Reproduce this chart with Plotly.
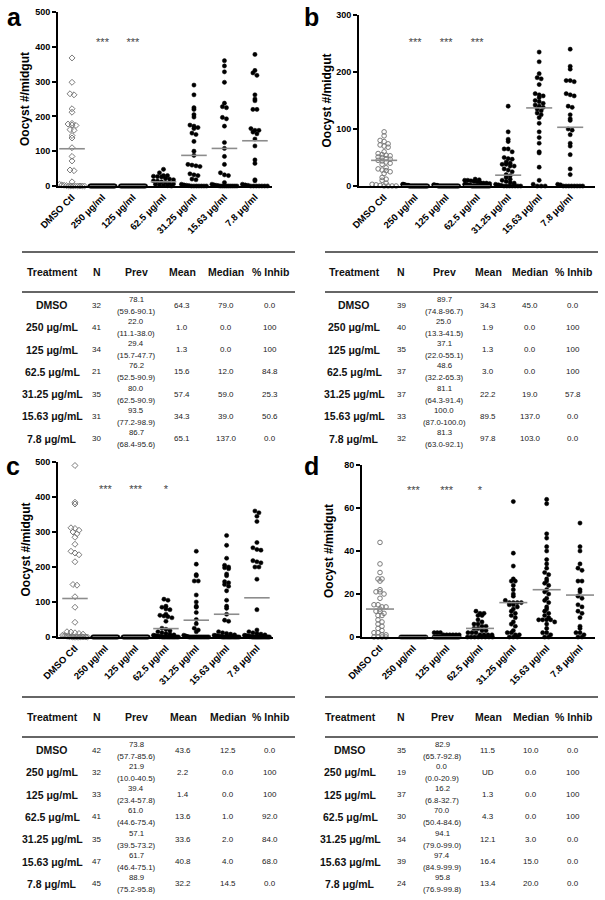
import plotly.graph_objects as go

W, H = 605, 900
FONT = "Liberation Sans, Arial, sans-serif"

categories = ["DMSO Ctl", "250 μg/ml", "125 μg/ml", "62.5 μg/ml",
              "31.25 μg/ml", "15.63 μg/ml", "7.8 μg/ml"]
stars = ["", "***", "***", "", "", "", ""]
stars_cd = ["", "***", "***", "*", "", "", ""]
stars_b = ["", "***", "***", "***", "", "", ""]

# ---------------- panel a (oocysts per midgut) ----------------
a_dmso = [368, 298, 265, 262, 222, 212, 180, 178, 175, 174, 162, 160, 145, 138, 110, 85,
          72, 46, 44, 12, 5, 3, 2, 1, 0, 0, 0, 0, 0, 0, 0, 0]
a_250 = [0] * 41
a_125 = [0] * 34
a_625 = [48, 38, 30, 30, 28, 27, 26, 22, 20, 18, 15, 14, 12, 10, 8, 6, 5, 3, 2, 1, 0]
a_3125 = [290, 262, 225, 220, 205, 198, 175, 172, 168, 165, 152, 148, 128, 100, 88, 62,
          60, 58, 56, 35, 32, 30, 20, 18, 5, 3, 2, 1, 0, 0, 0, 0, 0, 0, 0]
a_1563 = [360, 345, 328, 298, 238, 228, 225, 197, 193, 172, 125, 108, 85, 62, 38, 32, 30,
          10, 5, 3, 2, 1, 0, 0, 0, 0, 0, 0, 0, 0, 0]
a_78 = [378, 332, 325, 318, 262, 250, 245, 220, 220, 165, 160, 155, 160, 150, 115, 135,
        75, 65, 18, 15, 5, 3, 2, 0, 0, 0, 0, 0, 0, 0]
a_lines = [107, 0, 0, 12, 88, 108, 130]
a_star_y = 410

# ---------------- panel b ----------------
b_dmso = [95, 88, 80, 78, 74, 72, 70, 68, 60, 57, 55, 54, 53, 51, 50, 48, 47, 45, 44, 42,
          40, 38, 32, 30, 28, 27, 25, 22, 15, 12, 10, 5, 3, 2, 1, 0, 0, 0, 0]
b_250 = [3, 3, 2, 2, 2, 1, 1, 1, 1, 1] + [0] * 30
b_125 = [2, 2, 1, 1, 1, 1] + [0] * 29
b_625 = [12, 11, 10, 10, 9, 8, 7, 6, 5, 5, 4, 3, 3, 2, 2, 1, 1, 1] + [0] * 19
b_3125 = [140, 95, 82, 78, 65, 65, 60, 50, 48, 47, 42, 40, 38, 38, 35, 35, 30, 28, 25, 20,
          18, 15, 12, 10, 8, 6, 5, 3, 2, 1, 0, 0, 0, 0, 0, 0, 0]
b_1563 = [235, 218, 197, 190, 188, 178, 162, 160, 158, 155, 150, 148, 145, 142, 140, 138,
          135, 132, 128, 125, 120, 110, 95, 85, 75, 60, 58, 33, 10, 3, 0, 0, 0]
b_78 = [240, 210, 205, 185, 185, 183, 162, 160, 158, 140, 138, 125, 118, 115, 100, 98, 90,
        75, 70, 55, 30, 20, 3, 2, 0, 0, 0, 0, 0, 0, 0, 0]
b_lines = [45, 0, 0, 0, 19, 137, 103]
b_star_y = 250

# ---------------- panel c ----------------
c_dmso = [490, 385, 380, 312, 310, 305, 300, 295, 285, 265, 245, 240, 235, 215, 150, 148,
          115, 85, 42, 15, 14, 12, 10, 8, 5, 4, 3, 2, 2, 1, 1] + [0] * 11
c_250 = [0] * 32
c_125 = [0] * 33
c_625 = [108, 105, 88, 85, 80, 78, 65, 62, 60, 58, 55, 45, 25, 22, 18, 15, 12, 10, 8, 6,
         5, 4, 3, 2, 2, 1, 1] + [0] * 14
c_3125 = [245, 208, 178, 175, 160, 160, 120, 100, 88, 85, 70, 50, 38, 25, 20, 15, 5, 3, 2,
          1] + [0] * 15
c_1563 = [290, 262, 225, 205, 200, 198, 195, 180, 175, 158, 155, 150, 145, 132, 105, 88,
          82, 65, 48, 45, 15, 12, 10, 8, 6, 5, 4, 3, 2, 2, 1, 1] + [0] * 15
c_78 = [360, 355, 345, 330, 270, 255, 250, 248, 218, 215, 212, 200, 200, 165, 78, 20, 15,
        12, 10, 8, 6, 5, 4, 3, 2, 2, 1, 1] + [0] * 17
c_lines = [110, 0, 0, 24, 48, 65, 112]
c_star_y = 418

# ---------------- panel d ----------------
d_dmso = [44, 34, 30, 27, 27, 26, 22, 21, 21, 20, 18, 15, 15, 14, 14, 13, 12, 12, 11, 10,
          10, 8, 7, 6, 5, 4, 3, 2, 2, 1, 1, 0, 0, 0, 0]
d_250 = [0] * 19
d_125 = [2, 2, 2, 1, 1, 1, 1, 1, 1] + [0] * 28
d_625 = [12, 11, 11, 10, 10, 8, 7, 6, 6, 5, 5, 4, 4, 3, 3, 2, 2, 2, 1, 1, 1, 1] + [0] * 8
d_3125 = [63, 39, 33, 27, 26, 26, 24, 22, 20, 19, 17, 16, 16, 16, 16, 15, 15, 14, 13, 12,
          11, 10, 9, 7, 6, 5, 3, 2, 2, 1, 1, 0, 0, 0]
d_1563 = [64, 62, 48, 46, 42, 40, 36, 34, 32, 30, 29, 27, 26, 25, 24, 22, 21, 20, 18, 17,
          16, 14, 13, 12, 11, 10, 9, 8, 8, 8, 8, 7, 6, 4, 2, 2, 1, 0, 0]
d_78 = [53, 42, 40, 34, 32, 31, 26, 26, 22, 21, 19, 18, 15, 14, 12, 11, 9, 5, 4, 2, 2, 1,
        0, 0]
d_lines = [13, 0, 0, 4, 16, 22, 19.5]
d_star_y = 68

# ---------------- tables ----------------
table_header = ["Treatment", "N", "Prev", "Mean", "Median", "% Inhib"]
treatments = ["DMSO", "250 μg/mL", "125 μg/mL", "62.5 μg/mL", "31.25 μg/mL",
              "15.63 μg/mL", "7.8 μg/mL"]

a_N = [32, 41, 34, 21, 35, 31, 30]
a_prev = ["78.1", "22.0", "29.4", "76.2", "80.0", "93.5", "86.7"]
a_ci = ["(59.6-90.1)", "(11.1-38.0)", "(15.7-47.7)", "(52.5-90.9)", "(62.5-90.9)",
        "(77.2-98.9)", "(68.4-95.6)"]
a_mean = ["64.3", "1.0", "1.3", "15.6", "57.4", "34.3", "65.1"]
a_median = ["79.0", "0.0", "0.0", "12.0", "59.0", "39.0", "137.0"]
a_inhib = ["0.0", "100", "100", "84.8", "25.3", "50.6", "0.0"]

b_N = [39, 40, 35, 37, 37, 33, 32]
b_prev = ["89.7", "25.0", "37.1", "48.6", "81.1", "100.0", "81.3"]
b_ci = ["(74.8-96.7)", "(13.3-41.5)", "(22.0-55.1)", "(32.2-65.3)", "(64.3-91.4)",
        "(87.0-100.0)", "(63.0-92.1)"]
b_mean = ["34.3", "1.9", "1.3", "3.0", "22.2", "89.5", "97.8"]
b_median = ["45.0", "0.0", "0.0", "0.0", "19.0", "137.0", "103.0"]
b_inhib = ["0.0", "100", "100", "100", "57.8", "0.0", "0.0"]

c_N = [42, 32, 33, 41, 35, 47, 45]
c_prev = ["73.8", "21.9", "39.4", "61.0", "57.1", "61.7", "88.9"]
c_ci = ["(57.7-85.6)", "(10.0-40.5)", "(23.4-57.8)", "(44.6-75.4)", "(39.5-73.2)",
        "(46.4-75.1)", "(75.2-95.8)"]
c_mean = ["43.6", "2.2", "1.4", "13.6", "33.6", "40.8", "32.2"]
c_median = ["12.5", "0.0", "0.0", "1.0", "2.0", "4.0", "14.5"]
c_inhib = ["0.0", "100", "100", "92.0", "84.0", "68.0", "0.0"]

d_N = [35, 19, 37, 30, 34, 39, 24]
d_prev = ["82.9", "0.0", "16.2", "70.0", "94.1", "97.4", "95.8"]
d_ci = ["(65.7-92.8)", "(0.0-20.9)", "(6.8-32.7)", "(50.4-84.6)", "(79.0-99.0)",
        "(84.9-99.9)", "(76.9-99.8)"]
d_mean = ["11.5", "UD", "1.3", "4.3", "12.1", "16.4", "13.4"]
d_median = ["10.0", "0.0", "0.0", "0.0", "3.0", "15.0", "20.0"]
d_inhib = ["0.0", "100", "100", "100", "0.0", "0.0", "0.0"]

# ---------------- layout helpers ----------------
def px(x):
    return x / W


def py(y):
    return 1 - y / H


panels = [
    dict(name="a", ax="", groups=[a_dmso, a_250, a_125, a_625, a_3125, a_1563, a_78],
         lines=a_lines, stars=stars, star_y=a_star_y, ctl="diamond-open",
         x0=58, x1=272, ytop=12, ybot=186, xr=(-0.46, 6.56), yr=(0, 500), dtick=100,
         letter_xy=(5, 17)),
    dict(name="b", ax="2", groups=[b_dmso, b_250, b_125, b_625, b_3125, b_1563, b_78],
         lines=b_lines, stars=stars_b, star_y=b_star_y, ctl="circle-open",
         x0=359, x1=595, ytop=15, ybot=186, xr=(-0.81, 6.8), yr=(0, 300), dtick=100,
         letter_xy=(302, 17)),
    dict(name="c", ax="3", groups=[c_dmso, c_250, c_125, c_625, c_3125, c_1563, c_78],
         lines=c_lines, stars=stars_cd, star_y=c_star_y, ctl="diamond-open",
         x0=58, x1=273, ytop=462, ybot=637, xr=(-0.56, 6.53), yr=(0, 500), dtick=100,
         letter_xy=(4, 466)),
    dict(name="d", ax="4", groups=[d_dmso, d_250, d_125, d_625, d_3125, d_1563, d_78],
         lines=d_lines, stars=stars_cd, star_y=d_star_y, ctl="circle-open",
         x0=362, x1=595, ytop=465, ybot=637, xr=(-0.54, 6.45), yr=(0, 80), dtick=20,
         letter_xy=(302, 466)),
]


def swarm(vals, ppu, ppc, d=4.0, maxhalf=12.5):
    vs = sorted(vals, reverse=True)
    bins = {}
    for v in vs:
        bins.setdefault(int(round(v * ppu / d)), []).append(v)
    xs, ys = [], []
    for _, bv in bins.items():
        k = len(bv)
        step = d if (k - 1) * d <= 2 * maxhalf else 2 * maxhalf / (k - 1)
        for j, v in enumerate(bv):
            xs.append((j - (k - 1) / 2) * step / ppc)
            ys.append(v)
    return xs, ys


fig = go.Figure()
layout = dict(width=W, height=H, margin=dict(l=0, r=0, t=0, b=0, autoexpand=False),
              paper_bgcolor="white", plot_bgcolor="white", showlegend=False,
              font=dict(family=FONT, color="black"))
annotations = []
shapes = []

for p in panels:
    ax = p["ax"]
    ppu = (p["ybot"] - p["ytop"]) / (p["yr"][1] - p["yr"][0])
    ppc = (p["x1"] - p["x0"]) / (p["xr"][1] - p["xr"][0])
    for i, g in enumerate(p["groups"]):
        xo, yv = swarm(g, ppu, ppc)
        ctl = i == 0
        fig.add_trace(go.Scatter(
            x=[i + o for o in xo], y=yv, mode="markers", cliponaxis=False,
            xaxis="x" + ax, yaxis="y" + ax,
            marker=dict(symbol=p["ctl"] if ctl else "circle", size=4.6 if ctl else 4.2,
                        color="#7a7a7a" if ctl else "black",
                        line=dict(width=1 if ctl else 0.5,
                                  color="#7a7a7a" if ctl else "black"))))
        m = p["lines"][i]
        fig.add_trace(go.Scatter(
            x=[i - 0.42, i + 0.42], y=[m, m], mode="lines", cliponaxis=False,
            xaxis="x" + ax, yaxis="y" + ax,
            line=dict(color="#8c8c8c", width=1.6)))
    fig.add_trace(go.Scatter(
        x=list(range(7)), y=[p["star_y"]] * 7, text=p["stars"], mode="text",
        cliponaxis=False, xaxis="x" + ax, yaxis="y" + ax,
        textfont=dict(size=11, color="#444", family=FONT)))

    layout["xaxis" + ax] = dict(
        domain=[px(p["x0"]), px(p["x1"])], range=list(p["xr"]), anchor="y" + ax,
        automargin=False,
        showline=True, linewidth=2, linecolor="black", showgrid=False, zeroline=False,
        tickmode="array", tickvals=list(range(7)), ticktext=categories, tickangle=-45,
        ticks="", tickfont=dict(size=9.5, family=FONT, color="black", weight="bold"))
    layout["yaxis" + ax] = dict(
        domain=[py(p["ybot"]), py(p["ytop"])], range=list(p["yr"]), anchor="x" + ax,
        automargin=False,
        showline=True, linewidth=2, linecolor="black", showgrid=False, zeroline=False,
        tickmode="linear", tick0=0, dtick=p["dtick"], ticks="outside", ticklen=4,
        tickwidth=1.5, tickcolor="black",
        tickfont=dict(size=9, family=FONT, color="black", weight="bold"))
    annotations.append(dict(
        x=px(p["x0"] - 33), y=py((p["ytop"] + p["ybot"]) / 2), xref="paper", yref="paper",
        text="Oocyst #/midgut", textangle=-90, showarrow=False, xanchor="center",
        yanchor="middle", font=dict(size=12, family=FONT, color="black", weight="bold")))
    annotations.append(dict(
        x=px(p["letter_xy"][0]), y=py(p["letter_xy"][1]), xref="paper", yref="paper",
        text=p["name"], showarrow=False, xanchor="left", yanchor="middle",
        font=dict(size=25, family=FONT, color="black", weight="bold")))

tables = [
    dict(left=22, right=295, top=252, cols=[52, 97, 136, 182, 226, 270],
         N=a_N, prev=a_prev, ci=a_ci, mean=a_mean, median=a_median, inhib=a_inhib),
    dict(left=325, right=598, top=252, cols=[354, 401, 444, 488, 530, 573],
         N=b_N, prev=b_prev, ci=b_ci, mean=b_mean, median=b_median, inhib=b_inhib),
    dict(left=22, right=295, top=697, cols=[52, 97, 136, 183, 228, 270],
         N=c_N, prev=c_prev, ci=c_ci, mean=c_mean, median=c_median, inhib=c_inhib),
    dict(left=325, right=598, top=697, cols=[350, 401, 442, 488, 531, 573],
         N=d_N, prev=d_prev, ci=d_ci, mean=d_mean, median=d_median, inhib=d_inhib),
]


def txt(x, y, s, size, bold=False, color="#222"):
    f = dict(size=size, family=FONT, color=color)
    if bold:
        f["weight"] = "bold"
    annotations.append(dict(x=px(x), y=py(y), xref="paper", yref="paper", text=s,
                            showarrow=False, xanchor="center", yanchor="middle", font=f))


for t in tables:
    top = t["top"]
    for yl in (top, top + 40):
        shapes.append(dict(type="line", xref="paper", yref="paper",
                           x0=px(t["left"]), x1=px(t["right"]), y0=py(yl), y1=py(yl),
                           line=dict(color="#333", width=1.6)))
    for cx, h in zip(t["cols"], table_header):
        txt(cx, top + 20, h, 10.5, bold=True, color="#111")
    for i in range(7):
        ry = top + 53 + i * 22.3
        c = t["cols"]
        txt(c[0], ry, treatments[i], 10.5, bold=True, color="#111")
        txt(c[1], ry, str(t["N"][i]), 8)
        txt(c[2], ry - 6, t["prev"][i], 7.8)
        txt(c[2], ry + 6, t["ci"][i], 7.8)
        txt(c[3], ry, t["mean"][i], 8)
        txt(c[4], ry, t["median"][i], 8)
        txt(c[5], ry, t["inhib"][i], 8)

layout["annotations"] = annotations
layout["shapes"] = shapes
fig.update_layout(**layout)
fig.write_html("out.html", config={"displayModeBar": False},
               post_script="document.body.style.margin='0';")
